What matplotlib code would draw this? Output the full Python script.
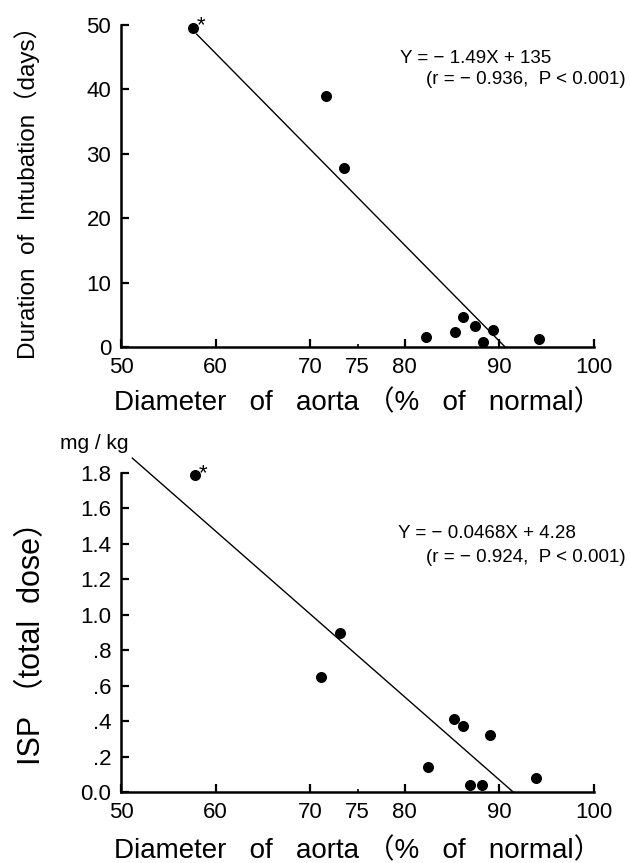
import matplotlib
matplotlib.use("Agg")
import matplotlib.pyplot as plt

plt.rcParams["font.family"] = ["Liberation Sans", "Noto Sans CJK JP", "DejaVu Sans"]

# diameter of aorta (% of normal) for each patient
diam_top = [57.6, 71.7, 73.6, 82.2, 85.3, 86.2, 87.4, 88.3, 89.3, 94.2]
intubation_days = [49.6, 39.0, 27.8, 1.5, 2.4, 4.6, 3.3, 0.7, 2.7, 1.3]

diam_bot = [57.8, 71.1, 73.2, 82.4, 85.2, 86.2, 86.9, 88.2, 89.0, 93.9]
isp_dose = [1.79, 0.65, 0.90, 0.14, 0.41, 0.37, 0.04, 0.04, 0.32, 0.08]

# regression lines (slope, intercept, x where drawn line starts)
fit_top = (-1.49, 135.0, 58.0)
fit_bot = (-0.0468, 4.28, 51.2)

eq_top = ["Y = \u2212 1.49X + 135", "(r = \u2212 0.936,  P < 0.001)"]
eq_bot = ["Y = \u2212 0.0468X + 4.28", "(r = \u2212 0.924,  P < 0.001)"]

x_major = [50, 60, 70, 80, 90, 100]
x_minor = [75]
yticks_top = [0, 10, 20, 30, 40, 50]
yticks_bot = [0.0, 0.2, 0.4, 0.6, 0.8, 1.0, 1.2, 1.4, 1.6, 1.8]
ylabels_bot = ["0.0", ".2", ".4", ".6", ".8", "1.0", "1.2", "1.4", "1.6", "1.8"]

xlabel = "Diameter   of   aorta \uff08%   of   normal\uff09"
ylabel_top = "Duration  of  Intubation\uff08days\uff09"
ylabel_bot = "ISP \uff08total  dose\uff09"

W, H = 630, 863
fig = plt.figure(figsize=(W / 100, H / 100), dpi=100)
ax1 = fig.add_axes([121 / W, 1 - 347 / H, 473 / W, 322 / H])
ax2 = fig.add_axes([121 / W, 1 - 792 / H, 473 / W, 319 / H])


def style_axis(ax, ymax):
    ax.set_xlim(50, 100)
    ax.set_ylim(0, ymax)
    for s in ["top", "right"]:
        ax.spines[s].set_visible(False)
    for s in ["left", "bottom"]:
        ax.spines[s].set_linewidth(1.8)
    ax.set_xticks(x_major)
    ax.set_xticks(x_minor, minor=True)
    ax.set_xticklabels([str(v) for v in x_major])
    ax.set_xticklabels([str(v) for v in x_minor], minor=True)
    ax.tick_params(axis="both", which="major", direction="in", length=6, width=1.6,
                   labelsize=16)
    ax.tick_params(axis="y", which="major", pad=7)
    ax.tick_params(axis="x", which="both", pad=7)
    ax.tick_params(axis="x", which="minor", direction="in", length=2, width=1.2,
                   labelsize=16)


def draw_fit(ax, fit):
    slope, icpt, x0 = fit
    x1 = -icpt / slope
    ax.plot([x0, x1], [slope * x0 + icpt, 0], color="black", lw=1.0, clip_on=False)


# ─── top panel: duration of intubation ───
style_axis(ax1, 50)
ax1.set_yticks(yticks_top)
ax1.set_yticklabels([str(v) for v in yticks_top])
draw_fit(ax1, fit_top)
ax1.scatter(diam_top, intubation_days, s=48, color="black", zorder=3, clip_on=False)
ax1.annotate("*", (diam_top[0], intubation_days[0]), xytext=(3, 1),
             textcoords="offset points", fontsize=16, va="center", ha="left")
ax1.text(0.59, 0.897, eq_top[0], transform=ax1.transAxes, fontsize=13.5, va="center")
ax1.text(0.645, 0.83, eq_top[1], transform=ax1.transAxes, fontsize=13.5, va="center")
fig.text(27 / W, 1 - 187 / H, ylabel_top, rotation=90, fontsize=17.5,
         ha="center", va="center")
fig.text(358 / W, 1 - 410 / H, xlabel, fontsize=20, ha="center", va="baseline")

# ─── bottom panel: ISP total dose ───
style_axis(ax2, 1.8)
ax2.set_yticks(yticks_bot)
ax2.set_yticklabels(ylabels_bot)
draw_fit(ax2, fit_bot)
ax2.scatter(diam_bot, isp_dose, s=48, color="black", zorder=3, clip_on=False)
ax2.annotate("*", (diam_bot[0], isp_dose[0]), xytext=(3, 1),
             textcoords="offset points", fontsize=16, va="center", ha="left")
ax2.text(0.015, 1.094, "mg / kg", transform=ax2.transAxes, fontsize=15,
         ha="right", va="center")
ax2.text(0.586, 0.81, eq_bot[0], transform=ax2.transAxes, fontsize=13.5, va="center")
ax2.text(0.645, 0.736, eq_bot[1], transform=ax2.transAxes, fontsize=13.5, va="center")
fig.text(32 / W, 1 - 636 / H, ylabel_bot, rotation=90, fontsize=22,
         ha="center", va="center")
fig.text(358 / W, 1 - 858 / H, xlabel, fontsize=20, ha="center", va="baseline")

fig.savefig("out.png", dpi=100)
